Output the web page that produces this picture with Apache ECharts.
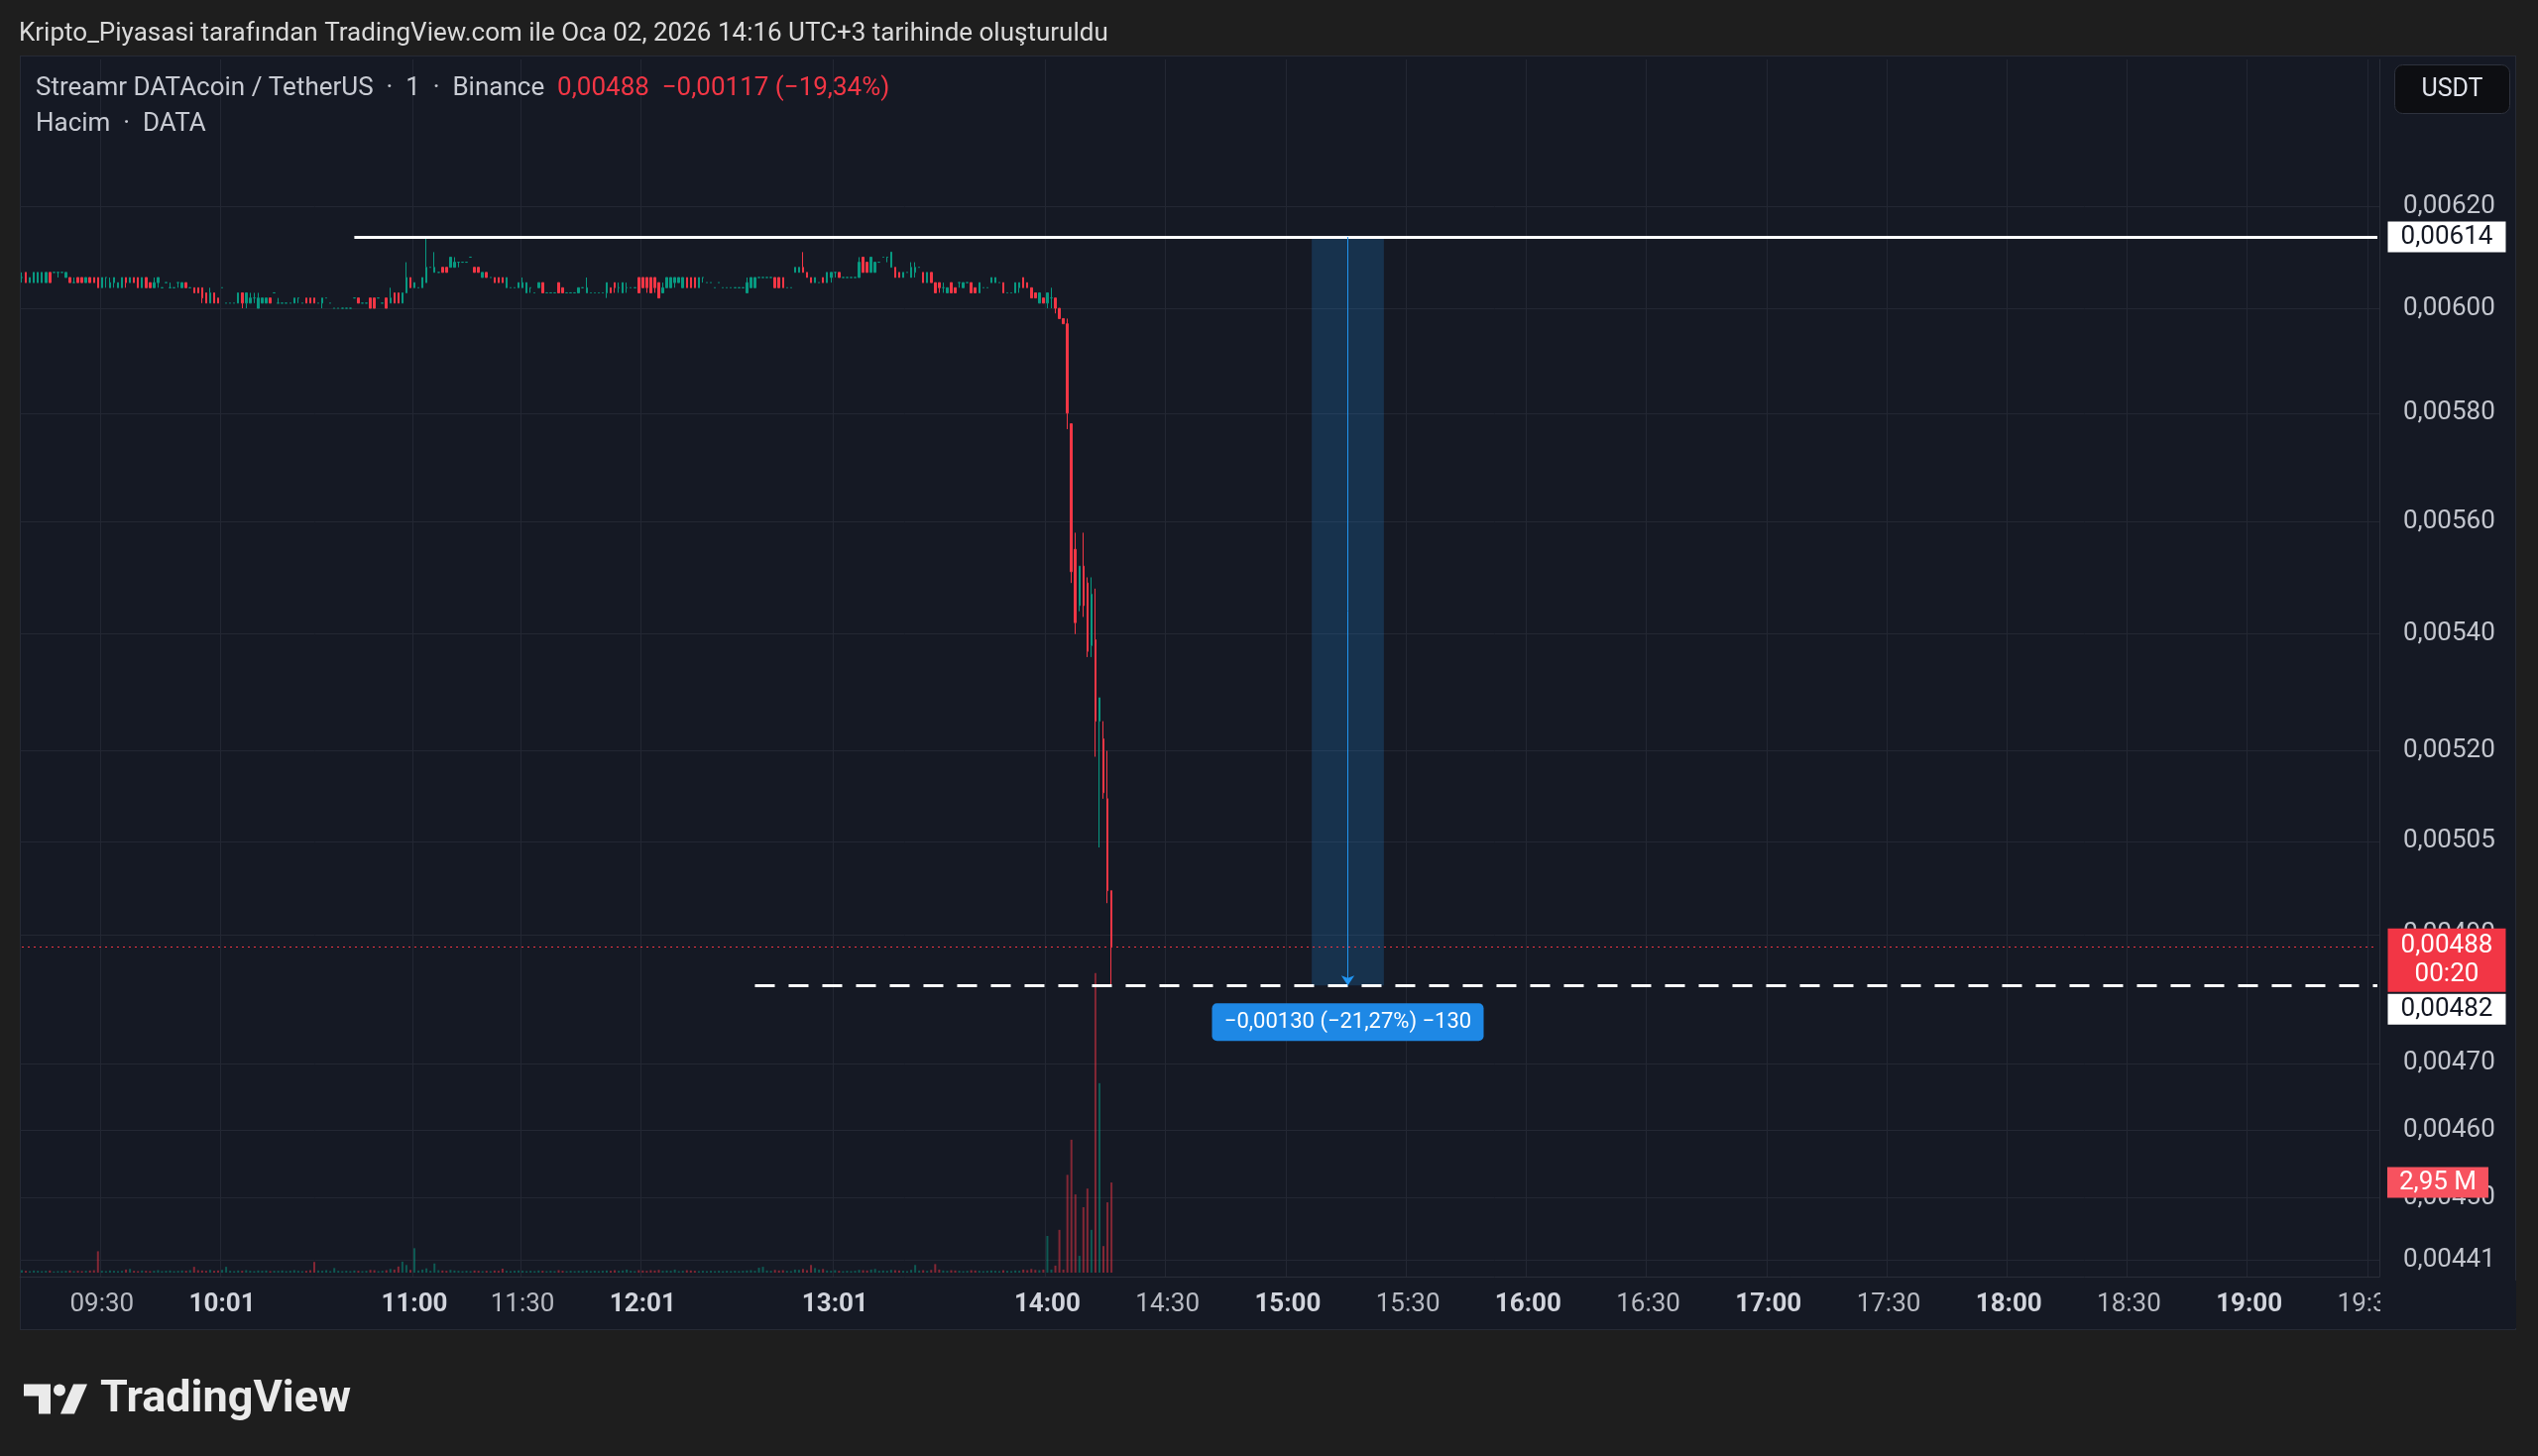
<!DOCTYPE html>
<html><head><meta charset="utf-8">
<script src="https://cdn.jsdelivr.net/npm/echarts@6/dist/echarts.min.js"></script>
<style>
html,body{margin:0;padding:0;background:#1e1e1e;}
#panel{position:absolute;left:20px;top:56px;width:2518px;height:1286px;background:#151924;box-sizing:border-box;border:1px solid #262a35;}
#c{position:absolute;left:0;top:0;width:2560px;height:1469px;}
</style>
</head><body><div id="panel"></div><div id="c"></div>
<script>
// ---------- DATA (prices in 1e-5 USDT, volumes in millions DATA) ----------
const P = 1e-5;
const sessionStart = '09:10';
const axisEnd = '19:32';
const missingMinutes = ['10:00','10:07','10:12','10:18','10:23','10:27','10:33','10:38','10:44','10:49','10:53','10:57',
  '11:09','11:17','11:24','12:00','12:05','12:09','12:14','12:19','12:24','12:29','12:33','12:38','12:43','12:48','12:54','13:00',
  '13:08','13:17','13:26','13:35','13:44','13:52'];
const labelTimes = ['09:30','10:01','11:00','11:30','12:01','13:01','14:00','14:30','15:00','15:30','16:00','16:30','17:00','17:30','18:00','18:30','19:00','19:30'];
const boldTimes = ['10:01','11:00','12:01','13:01','14:00','15:00','16:00','17:00','18:00','19:00'];
const priceTicks = [0.00620,0.00600,0.00580,0.00560,0.00540,0.00520,0.00505,0.00490,0.00470,0.00460,0.00450,0.00441];
// [open, high, low, close]
const ohlc = [
 [606,607,605,606],[607,607,605,605],[605,606,605,606],[605,607,605,607],[605,607,605,607],[605,607,605,607],[605,607,605,607],[607,607,605,605],[607,607,607,607],[607,607,606,607],
 [607,607,607,607],[606,607,606,607],[606,606,605,605],[605,606,605,605],[606,606,605,605],[606,606,605,605],[605,606,605,606],[606,606,605,605],[606,606,605,605],[606,606,604,604],
 [604,606,604,606],[606,606,604,606],[604,606,604,605],[605,606,604,606],[604,605,604,605],[604,606,604,606],[606,606,604,605],[605,606,605,606],[606,606,605,605],[606,606,604,604],
 [604,606,604,606],[606,606,604,604],[605,605,604,604],[604,606,604,605],[605,606,604,606],[604,604,604,604],[605,605,605,605],[604,605,604,604],[604,604,604,604],[605,605,604,605],
 [604,605,604,605],[605,605,604,604],[604,604,604,604],[604,604,603,603],[604,604,603,603],[604,604,601,602],[603,603,601,601],[601,604,601,603],[603,603,601,601],[602,602,601,601],
 [604,604,604,604],[601,601,601,601],[601,601,601,601],[601,601,601,601],[601,603,601,603],[603,603,600,601],[601,603,600,603],[601,603,601,602],[602,603,601,602],[600,603,600,602],
 [601,602,601,602],[601,602,601,602],[602,602,601,601],[603,603,603,603],[601,602,601,601],[601,601,601,601],[601,601,601,601],[601,601,601,601],[601,602,601,602],[602,602,601,602],
 [601,601,601,601],[602,602,601,601],[602,602,601,601],[602,602,601,601],[601,601,601,601],[601,602,600,602],[602,602,602,602],[601,601,601,601],[600,600,600,600],[600,600,600,600],
 [600,600,600,600],[600,600,600,600],[600,600,600,600],[602,602,602,602],[602,602,601,601],[601,601,601,601],[601,601,601,601],[602,602,600,600],[602,602,600,600],[602,602,602,602],
 [601,601,601,601],[602,602,600,600],[601,604,601,602],[603,603,601,601],[603,603,601,601],[601,603,601,603],[603,609,603,606],[606,606,604,604],[604,605,604,605],[604,604,604,604],
 [604,606,604,606],[605,614,605,608],[608,608,608,608],[607,611,607,608],[607,607,607,607],[608,608,607,607],[608,608,607,607],[608,610,608,610],[608,610,608,609],[609,609,608,609],
 [609,609,609,609],[609,609,609,609],[610,610,610,610],[608,608,607,607],[608,608,607,607],[606,607,606,607],[607,607,606,606],[606,606,606,606],[606,606,605,605],[606,606,605,605],
 [606,606,605,605],[604,606,604,606],[604,604,604,604],[604,604,604,604],[604,605,604,605],[604,606,604,605],[603,605,603,605],[604,604,603,604],[603,603,603,603],[604,605,604,605],
 [605,605,603,603],[603,603,603,603],[603,603,603,603],[603,603,603,603],[605,605,603,603],[604,604,603,603],[603,603,603,603],[603,603,603,603],[603,603,603,603],[603,604,603,604],
 [604,604,604,604],[603,606,603,604],[603,603,603,603],[603,603,603,603],[603,603,603,603],[603,603,603,603],[603,605,602,605],[604,604,603,603],[605,605,603,604],[604,605,603,604],
 [603,605,603,605],[604,605,603,604],[604,604,604,604],[604,604,604,604],[606,606,603,603],[606,606,604,604],[606,606,603,604],[606,606,603,603],[606,606,603,604],[605,605,602,602],
 [603,605,603,604],[604,606,604,606],[604,606,604,606],[605,606,604,606],[605,606,605,606],[604,606,604,606],[606,606,604,604],[606,606,604,604],[606,606,604,604],[604,606,604,606],
 [606,606,605,606],[605,605,605,605],[605,605,605,605],[604,604,604,604],[605,605,605,605],[604,604,604,604],[604,604,604,604],[604,604,604,604],[604,604,604,604],[604,604,604,604],
 [604,604,604,604],[603,606,603,605],[604,606,604,606],[604,606,604,606],[606,606,606,606],[606,606,606,606],[606,606,606,606],[606,606,606,606],[606,606,604,604],[606,606,604,604],
 [606,606,604,604],[604,604,604,604],[604,604,604,604],[607,608,607,608],[607,608,607,608],[608,611,607,607],[607,607,606,606],[606,606,605,605],[605,606,605,606],[605,605,605,605],
 [606,606,605,605],[605,607,605,607],[606,607,605,607],[607,607,606,607],[607,607,606,606],[606,606,606,606],[606,606,606,606],[606,606,606,606],[606,606,606,606],[606,610,606,609],
 [610,610,607,607],[609,609,607,607],[607,610,607,610],[607,609,607,609],[609,609,609,609],[610,610,610,610],[610,610,609,610],[608,611,608,611],[608,608,606,606],[607,607,606,606],
 [606,607,606,607],[607,607,607,607],[606,609,606,608],[607,609,606,608],[608,608,608,608],[607,607,605,605],[605,607,605,607],[607,607,605,605],[605,605,603,603],[605,605,603,604],
 [604,605,603,604],[603,604,603,604],[605,605,603,603],[604,604,603,603],[605,605,604,605],[604,605,604,605],[605,605,605,605],[605,605,603,603],[604,604,603,603],[603,605,603,605],
 [604,604,604,604],[604,604,604,604],[605,606,605,606],[605,606,605,606],[605,605,605,605],[605,605,603,603],[603,603,603,603],[603,603,603,603],[603,605,603,605],[604,605,603,605],
 [606,606,604,604],[605,605,604,604],[604,604,602,602],[603,603,602,602],[601,603,601,603],[602,602,601,601],[601,603,600,603],[602,604,600,602],[602,602,599,600],[600,600,598,598],
 [598,598,597,597],[597,598,577,580],[578,578,549,551],[555,558,540,542],[545,552,544,552],[552,558,543,545],[549,550,536,537],[538,550,536,547],[539,548,519,525],[525,529,504,529],
 [522,525,512,513],[512,520,495,497],[497,497,482,488]
];
const volumes = [
 0.08,0.06,0.05,0.07,0.06,0.05,0.06,0.07,0.04,0.05,
 0.05,0.06,0.07,0.05,0.06,0.05,0.06,0.07,0.08,0.70,
 0.06,0.05,0.07,0.06,0.05,0.06,0.10,0.12,0.06,0.05,
 0.07,0.06,0.05,0.06,0.08,0.05,0.06,0.07,0.05,0.06,
 0.07,0.06,0.08,0.19,0.08,0.07,0.06,0.09,0.06,0.07,
 0.09,0.19,0.06,0.05,0.07,0.06,0.08,0.06,0.05,0.07,
 0.06,0.07,0.05,0.06,0.06,0.07,0.05,0.06,0.08,0.06,
 0.05,0.06,0.08,0.35,0.07,0.06,0.08,0.05,0.15,0.06,
 0.05,0.06,0.05,0.07,0.06,0.05,0.06,0.09,0.08,0.05,
 0.06,0.08,0.12,0.10,0.20,0.36,0.25,0.09,0.80,0.07,
 0.10,0.14,0.06,0.30,0.08,0.07,0.06,0.09,0.07,0.06,
 0.05,0.06,0.05,0.07,0.06,0.05,0.06,0.05,0.07,0.06,
 0.13,0.06,0.05,0.06,0.07,0.06,0.05,0.06,0.05,0.07,
 0.06,0.05,0.06,0.05,0.08,0.06,0.05,0.06,0.05,0.06,
 0.05,0.07,0.05,0.06,0.05,0.06,0.07,0.06,0.08,0.06,
 0.07,0.10,0.06,0.05,0.08,0.07,0.06,0.08,0.07,0.09,
 0.06,0.07,0.06,0.10,0.05,0.06,0.08,0.07,0.06,0.05,
 0.06,0.05,0.06,0.05,0.06,0.05,0.06,0.05,0.06,0.05,
 0.06,0.07,0.08,0.06,0.16,0.19,0.07,0.06,0.09,0.07,
 0.08,0.06,0.05,0.10,0.09,0.12,0.08,0.25,0.15,0.10,
 0.12,0.07,0.06,0.08,0.06,0.05,0.06,0.05,0.06,0.09,
 0.08,0.07,0.10,0.12,0.06,0.07,0.06,0.09,0.08,0.07,
 0.06,0.05,0.09,0.25,0.07,0.08,0.06,0.09,0.28,0.10,
 0.07,0.06,0.08,0.07,0.06,0.05,0.06,0.08,0.07,0.06,
 0.05,0.06,0.07,0.06,0.05,0.08,0.06,0.05,0.07,0.06,
 0.10,0.08,0.12,0.09,0.08,0.10,1.20,0.10,0.23,1.40,
 0.10,3.20,4.35,2.56,0.55,2.14,2.75,1.40,9.80,6.20,
 0.87,2.30,2.95
];
const prevClose = 605;
// drawing annotations (price levels and bar positions)
const resistance = 0.00614, resistanceFrom = 83;
const support = 0.00482, supportFrom = 183;
const measureTop = 0.00614, measureBottom = 0.00482, measureFrom = '15:06', measureTo = '15:24', measureMid = '15:15';
const measureText = '−0,00130 (−21,27%) −130';
const countdown = '00:20';

// ---------- build ----------
function pad(n){return String(n).padStart(2,'0');}
function toMin(t){const a=t.split(':');return +a[0]*60+ +a[1];}
const times = [];
for (let m = toMin(sessionStart); m <= toMin(axisEnd); m++) {
  const t = pad(Math.floor(m/60)) + ':' + pad(m%60);
  if (missingMinutes.indexOf(t) < 0) times.push(t);
}
const lastIdx = times.length - 1;
const fmt = v => v.toFixed(5).replace('.', ',');
const UP = '#089981', DOWN = '#f23645';
const UPV = 'rgba(8,153,129,0.5)', DOWNV = 'rgba(242,54,69,0.5)';
const F = 'Roboto, "Noto Sans", sans-serif';
const candleData = ohlc.map(r => [r[0]*P, r[3]*P, r[2]*P, r[1]*P]);
const volData = volumes.map((v,i) => ({value: v, itemStyle: {color: ohlc[i][3] >= ohlc[i][0] ? UPV : DOWNV}}));
const last = ohlc[ohlc.length-1][3];
const chg = (last - prevClose) * P;
const pct = (last - prevClose) / prevClose * 100;
const legendVals = fmt(last*P) + '  ' + '−' + fmt(Math.abs(chg)) + ' (−' + Math.abs(pct).toFixed(2).replace('.', ',') + '%)';
const showLabel = (i, v) => labelTimes.indexOf(v) >= 0;
const roundBox = 'path://M5,0 H269 A5,5 0 0 1 274,5 V33 A5,5 0 0 1 269,38 H5 A5,5 0 0 1 0,33 V5 A5,5 0 0 1 5,0 Z';

const boxLabel = (text, color, size) => ({show: true, position: 'inside', formatter: text, color: color, fontSize: size || 26, fontFamily: F, lineHeight: 29});

const chart = echarts.init(document.getElementById('c'));
chart.setOption({
  animation: false,
  backgroundColor: 'transparent',
  title: [
    {text: 'Kripto_Piyasasi tarafından TradingView.com ile Oca 02, 2026 14:16 UTC+3 tarihinde oluşturuldu', left: 19, top: 21, padding: 0,
     textStyle: {color: '#dadada', fontSize: 26, fontWeight: 'normal', fontFamily: F}},
    {text: 'Streamr DATAcoin / TetherUS  ·  1  ·  Binance  {r|' + legendVals + '}', left: 36, top: 76, padding: 0,
     textStyle: {color: '#c8cbd3', fontSize: 26, fontWeight: 'normal', fontFamily: F, rich: {r: {color: DOWN, fontSize: 26, fontFamily: F}}}},
    {text: 'Hacim  ·  DATA', left: 36, top: 112, padding: 0, textStyle: {color: '#c8cbd3', fontSize: 26, fontWeight: 'normal', fontFamily: F}}
  ],
  grid: [
    {left: 20, right: 160, top: 60, bottom: 181},
    {left: 20, right: 160, top: 914, bottom: 185}
  ],
  xAxis: [
    {type: 'category', data: times, gridIndex: 0, boundaryGap: true,
     axisLine: {show: true, lineStyle: {color: '#2a2e39'}}, axisTick: {show: false},
     axisLabel: {interval: showLabel, margin: 15, fontFamily: F,
       formatter: v => boldTimes.indexOf(v) >= 0 ? '{b|' + v + '}' : '{n|' + v + '}',
       rich: {b: {color: '#d1d4dc', fontSize: 26, fontWeight: 'bold', fontFamily: F}, n: {color: '#b8bbc3', fontSize: 26, fontFamily: F}}},
     splitLine: {show: true, interval: showLabel, lineStyle: {color: '#232733', width: 1}}},
    {type: 'category', data: times, gridIndex: 1, boundaryGap: true, show: false}
  ],
  yAxis: [
    {type: 'log', gridIndex: 0, position: 'right', min: 0.0043869, max: 0.0065027,
     axisLine: {show: true, lineStyle: {color: '#2a2e39'}},
     axisTick: {show: false, customValues: priceTicks},
     axisLabel: {customValues: priceTicks, formatter: v => fmt(v), color: '#c3c6ce', fontSize: 26, fontFamily: F, margin: 24},
     splitLine: {show: true, lineStyle: {color: '#232733', width: 1}}},
    {type: 'value', gridIndex: 1, min: 0, max: 12, show: false, splitLine: {show: false}}
  ],
  graphic: [
    {type: 'group', left: 2415, top: 65, children: [
      {type: 'rect', shape: {x: 0, y: 0, width: 116, height: 49, r: 8}, style: {fill: '#0d0e12', stroke: '#2e323d', lineWidth: 1}},
      {type: 'text', x: 58, y: 25, style: {text: 'USDT', fill: '#e0e3eb', font: '25px ' + F, align: 'center', verticalAlign: 'middle'}}
    ]},
    {type: 'rect', left: 2401, top: 1292, shape: {width: 137, height: 48}, style: {fill: '#151924'}, z: 100},
    {type: 'group', left: 24, top: 1390, children: [
      {type: 'polygon', shape: {points: [[0,0],[27,0],[27,30],[15,30],[15,12],[0,12]]}, style: {fill: '#eaeaea'}},
      {type: 'circle', shape: {cx: 36, cy: 6, r: 6}, style: {fill: '#eaeaea'}},
      {type: 'polygon', shape: {points: [[50,0],[64,0],[51,30],[37,30]]}, style: {fill: '#eaeaea'}},
      {type: 'text', x: 77, y: 16, style: {text: 'TradingView', fill: '#eaeaea', font: 'bold 45px ' + F, verticalAlign: 'middle'}}
    ]}
  ],
  series: [
    {type: 'bar', name: 'Hacim', xAxisIndex: 1, yAxisIndex: 1, data: volData, barWidth: 2, z: 1,
     markPoint: {symbol: 'rect', silent: true, data: [
       {coord: [lastIdx, volumes[volumes.length-1]], symbolSize: [102, 31], symbolOffset: [61, 0],
        itemStyle: {color: '#f7525f'}, label: boxLabel((volumes[volumes.length-1]).toFixed(2).replace('.', ',') + ' M', '#ffffff')}
     ]}},
    {type: 'candlestick', name: 'DATAUSDT', xAxisIndex: 0, yAxisIndex: 0, data: candleData, barWidth: 2, z: 3,
     itemStyle: {color: UP, color0: DOWN, borderColor: UP, borderColor0: DOWN, borderColorDoji: UP, borderWidth: 1},
     markArea: {silent: true, itemStyle: {color: 'rgba(33,150,243,0.2)'}, data: [
       [{coord: [measureFrom, measureTop]}, {coord: [measureTo, measureBottom]}]
     ]},
     markLine: {silent: true, symbol: ['none', 'none'], label: {show: false}, data: [
       [{coord: [resistanceFrom, resistance], lineStyle: {color: '#ffffff', width: 3, type: 'solid'}}, {coord: [lastIdx, resistance]}],
       [{coord: [supportFrom, support], lineStyle: {color: '#ffffff', width: 3, type: [20, 14]}}, {coord: [lastIdx, support]}],
       [{coord: [0, last*P], lineStyle: {color: DOWN, width: 1, type: [2, 4]}}, {coord: [lastIdx, last*P]}],
       [{coord: [measureMid, measureTop], symbol: 'none', lineStyle: {color: '#2196f3', width: 1, type: 'solid'}},
        {coord: [measureMid, measureBottom], symbol: 'arrow', symbolSize: [10, 10]}]
     ]},
     markPoint: {symbol: 'rect', silent: true, data: [
       {coord: [lastIdx, resistance], symbolSize: [119, 31], symbolOffset: [70, 0], itemStyle: {color: '#ffffff'}, label: boxLabel(fmt(resistance), '#131722')},
       {coord: [lastIdx, last*P], symbolSize: [119, 64], symbolOffset: [70, 13], itemStyle: {color: DOWN}, label: boxLabel(fmt(last*P) + '\n' + countdown, '#ffffff')},
       {coord: [lastIdx, support], symbolSize: [119, 31], symbolOffset: [70, 24], itemStyle: {color: '#ffffff'}, label: boxLabel(fmt(support), '#131722')},
       {coord: [measureMid, measureBottom], symbol: roundBox, symbolKeepAspect: false, symbolSize: [274, 38], symbolOffset: [0, 37], itemStyle: {color: '#1e88e5'}, label: boxLabel(measureText, '#ffffff', 22)}
     ]}}
  ]
});
</script></body></html>
